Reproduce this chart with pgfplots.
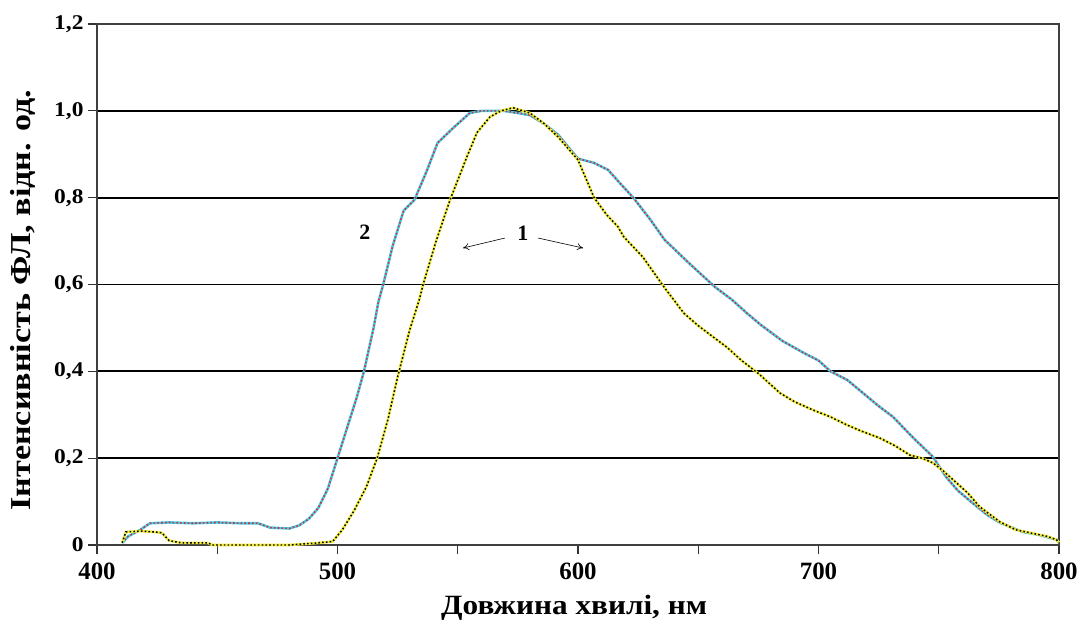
\documentclass[border=0pt]{standalone}
\usepackage{fontspec}
\setmainfont{Liberation Serif}
\newfontfamily\wideA{Liberation Serif}[FakeStretch=1.12]
\newfontfamily\wideB{Liberation Serif}[FakeStretch=1.18]
\usepackage{pgfplots}
\usepackage{pgfplotstable}
\pgfplotsset{compat=1.18}
\usetikzlibrary{arrows.meta}
\definecolor{ccyan}{RGB}{70,205,225}
\definecolor{cred}{RGB}{205,45,70}
\definecolor{cyel}{RGB}{240,235,60}

\pgfplotstableread{
x y
410.5 0.005
413 0.02
418 0.035
422 0.05
430 0.052
440 0.05
450 0.052
460 0.05
467 0.05
472 0.04
480 0.038
484 0.045
488 0.06
492 0.085
496 0.13
500 0.2
504 0.27
508 0.34
511 0.4
515 0.5
517 0.56
519 0.6
523 0.69
527.5 0.77
532 0.795
537 0.86
541.6 0.926
548 0.96
555 0.995
560 1.0
569 1.0
575 0.995
580 0.99
586 0.97
591.7 0.945
600 0.89
606.7 0.88
612.5 0.864
618 0.83
623 0.8
630 0.75
636 0.703
646 0.65
657 0.594
664 0.565
670 0.535
676 0.507
685 0.47
694 0.442
700 0.425
705 0.4
712 0.38
718.5 0.35
725 0.32
731 0.295
739 0.249
747.6 0.203
753 0.157
758 0.125
764 0.097
770 0.07
775.5 0.051
785 0.03
792 0.023
799 0.012
800 0.005
}\curvetwo

\pgfplotstableread{
x y
410.5 0.005
412 0.03
418 0.032
424 0.03
427 0.028
430 0.01
435 0.005
446 0.005
448 0.0
480 0.0
490 0.004
498 0.008
502 0.035
507 0.08
512 0.134
516.5 0.2
521 0.29
525 0.387
530 0.495
534 0.565
535.6 0.6
541 0.7
546.8 0.795
553.8 0.894
558 0.95
563.4 0.986
568 1.0
573 1.007
580 0.995
586 0.97
591.7 0.94
600 0.887
606.7 0.8
612 0.76
616.6 0.733
619 0.71
627 0.663
635.8 0.594
644 0.534
650 0.505
656 0.48
662 0.455
668 0.425
675 0.395
684 0.35
690 0.33
697.7 0.311
705 0.295
712 0.276
718 0.262
725.6 0.246
732 0.228
738 0.207
743 0.2
747.6 0.189
752 0.17
756 0.15
762 0.12
767 0.088
775.5 0.053
782 0.035
788 0.028
795 0.02
799 0.012
800 0.005
}\curveone

\begin{document}
\begin{tikzpicture}
\begin{axis}[
  scale only axis,
  width=962bp, height=521bp,
  xmin=400, xmax=800, ymin=0, ymax=1.2,
  axis line style={draw=black!75, line width=1.5pt},
  xtick={400,450,...,800},
  xticklabels={400,,500,,600,,700,,800},
  ytick={0,0.2,0.4,0.6,0.8,1.0,1.2},
  yticklabels={0,{0,2},{0,4},{0,6},{0,8},{1,0},{1,2}},
  tick align=outside,
  xtick pos=bottom, ytick pos=left,
  major tick length=9bp,
  tick style={draw=black!80, line width=1.3pt},
  ymajorgrids,
  grid style={black, line width=1.8pt},
  xticklabel style={font=\bfseries\fontsize{25}{25}\selectfont, yshift=-5bp},
  yticklabel style={font=\wideA\bfseries\fontsize{21}{21}\selectfont, xshift=-1bp},
  xlabel={Довжина хвилі, нм},
  ylabel={Інтенсивність ФЛ, відн. од.},
  xlabel style={font=\wideA\bfseries\fontsize{28}{28}\selectfont, at={(axis description cs:0.496,-0.121)}, anchor=center},
  ylabel style={font=\wideB\bfseries\fontsize{29}{29}\selectfont, at={(axis description cs:-0.077,0.47)}, anchor=center},
  clip=false,
]
\addplot[ccyan, line width=2.6pt] table[x=x,y=y]{\curvetwo};
\addplot[cred, line width=1.6pt, dash pattern=on 1.6pt off 2.2pt] table[x=x,y=y]{\curvetwo};
\addplot[cyel, line width=2.6pt] table[x=x,y=y]{\curveone};
\addplot[black, line width=1.5pt, dash pattern=on 1.6pt off 2.2pt] table[x=x,y=y]{\curveone};

\node[font=\bfseries\fontsize{22}{22}\selectfont] at (axis cs:511.4,0.72) {2};
\node[font=\bfseries\fontsize{22}{22}\selectfont] at (axis cs:577.1,0.717) {1};
\draw[-{To[length=6pt,width=7pt]}, line width=0.6pt] (axis cs:569.6,0.707) -- (axis cs:552.2,0.684);
\draw[-{To[length=6pt,width=7pt]}, line width=0.6pt] (axis cs:583.4,0.707) -- (axis cs:602.1,0.684);
\end{axis}
\pgfresetboundingbox
\path ([xshift=-97bp,yshift=-81bp]current axis.south west) rectangle ([xshift=23bp,yshift=24bp]current axis.north east);
\end{tikzpicture}
\end{document}
